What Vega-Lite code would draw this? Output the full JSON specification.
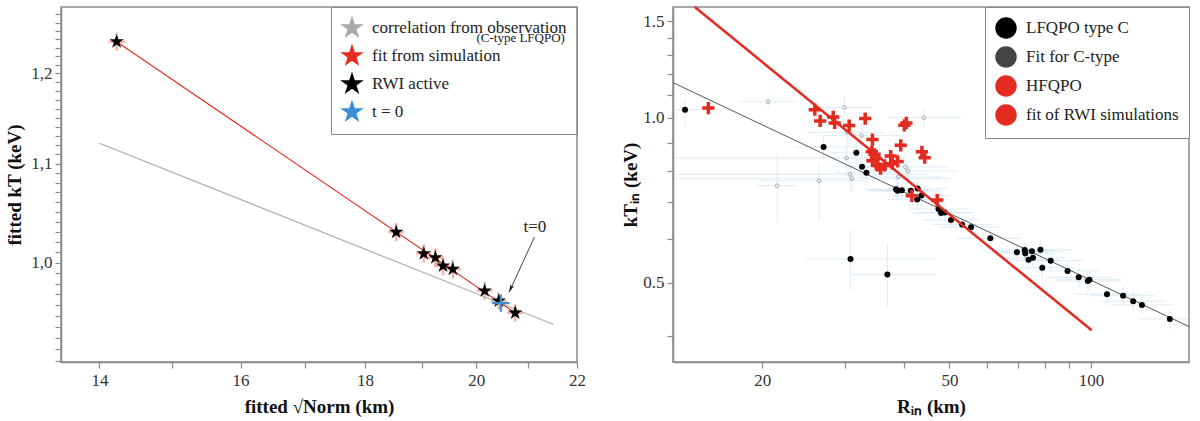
{
  "$schema": "https://vega.github.io/schema/vega-lite/v6.json",
  "padding": {"left": 5, "top": 4, "right": 5, "bottom": 0},
  "spacing": 34,
  "resolve": {"scale": {"color": "independent"}, "legend": {"color": "independent"}},
  "datasets": {
    "stars": [
      {"x": 14.23, "y": 1.237, "xlo": 14.12, "xhi": 14.34, "ylo": 1.226, "yhi": 1.248, "s": "RWI active"},
      {"x": 18.54, "y": 1.030, "xlo": 18.40, "xhi": 18.68, "ylo": 1.021, "yhi": 1.039, "s": "RWI active"},
      {"x": 19.03, "y": 1.009, "xlo": 18.89, "xhi": 19.17, "ylo": 1.000, "yhi": 1.018, "s": "RWI active"},
      {"x": 19.24, "y": 1.005, "xlo": 19.10, "xhi": 19.38, "ylo": 0.996, "yhi": 1.014, "s": "RWI active"},
      {"x": 19.38, "y": 0.997, "xlo": 19.24, "xhi": 19.52, "ylo": 0.988, "yhi": 1.006, "s": "RWI active"},
      {"x": 19.56, "y": 0.994, "xlo": 19.41, "xhi": 19.71, "ylo": 0.985, "yhi": 1.003, "s": "RWI active"},
      {"x": 20.16, "y": 0.9735, "xlo": 20.01, "xhi": 20.31, "ylo": 0.965, "yhi": 0.982, "s": "RWI active"},
      {"x": 20.43, "y": 0.964, "xlo": 20.28, "xhi": 20.58, "ylo": 0.956, "yhi": 0.972, "s": "RWI active"},
      {"x": 20.75, "y": 0.953, "xlo": 20.59, "xhi": 20.91, "ylo": 0.945, "yhi": 0.961, "s": "RWI active"}
    ],
    "t0": [{"x": 20.47, "y": 0.962, "s": "t = 0"}],
    "obsfit": [{"x": 14.0, "y": 1.122, "x2": 21.51, "y2": 0.9426}],
    "simfit": [{"x": 14.23, "y": 1.237, "x2": 20.75, "y2": 0.953}],
    "arrow": [{"x": 21.13, "y": 1.025, "x2": 20.63, "y2": 0.972}],
    "arrowhead": [{"x": 20.63, "y": 0.972}],
    "tlabel": [{"x": 21.14, "y": 1.035, "label": "t=0"}],
    "legnote": [{"x": 21.75, "y": 1.242, "label": "(C-type LFQPO)"}],
    "lf": [
      {"x": 13.69, "y": 1.034, "xlo": 12.95, "xhi": 16.2, "ylo": 0.964, "yhi": 1.075, "s": "LFQPO type C"},
      {"x": 27.0, "y": 0.884, "xlo": 23.5, "xhi": 31.0, "ylo": 0.84, "yhi": 0.93, "s": "LFQPO type C"},
      {"x": 31.7, "y": 0.863, "xlo": 27.5, "xhi": 36.5, "ylo": 0.82, "yhi": 0.91, "s": "LFQPO type C"},
      {"x": 32.6, "y": 0.813, "xlo": 28.0, "xhi": 38.0, "ylo": 0.77, "yhi": 0.86, "s": "LFQPO type C"},
      {"x": 33.3, "y": 0.793, "xlo": 28.5, "xhi": 39.0, "ylo": 0.75, "yhi": 0.84, "s": "LFQPO type C"},
      {"x": 30.8, "y": 0.552, "xlo": 24.7, "xhi": 46.7, "ylo": 0.484, "yhi": 0.625, "s": "LFQPO type C"},
      {"x": 36.9, "y": 0.517, "xlo": 31.0, "xhi": 46.7, "ylo": 0.45, "yhi": 0.59, "s": "LFQPO type C"},
      {"x": 38.5, "y": 0.740, "xlo": 33.0, "xhi": 45.0, "ylo": 0.71, "yhi": 0.77, "s": "LFQPO type C"},
      {"x": 38.8, "y": 0.735, "xlo": 33.5, "xhi": 45.0, "ylo": 0.705, "yhi": 0.765, "s": "LFQPO type C"},
      {"x": 39.6, "y": 0.737, "xlo": 34.0, "xhi": 46.0, "ylo": 0.71, "yhi": 0.765, "s": "LFQPO type C"},
      {"x": 41.4, "y": 0.735, "xlo": 36.0, "xhi": 48.0, "ylo": 0.705, "yhi": 0.765, "s": "LFQPO type C"},
      {"x": 42.8, "y": 0.742, "xlo": 37.0, "xhi": 49.5, "ylo": 0.71, "yhi": 0.775, "s": "LFQPO type C"},
      {"x": 42.7, "y": 0.7085, "xlo": 37.0, "xhi": 49.0, "ylo": 0.68, "yhi": 0.74, "s": "LFQPO type C"},
      {"x": 43.6, "y": 0.7205, "xlo": 38.0, "xhi": 50.0, "ylo": 0.69, "yhi": 0.75, "s": "LFQPO type C"},
      {"x": 47.4, "y": 0.681, "xlo": 41.0, "xhi": 55.0, "ylo": 0.655, "yhi": 0.71, "s": "LFQPO type C"},
      {"x": 48.0, "y": 0.670, "xlo": 41.5, "xhi": 55.5, "ylo": 0.645, "yhi": 0.695, "s": "LFQPO type C"},
      {"x": 48.9, "y": 0.671, "xlo": 42.5, "xhi": 56.5, "ylo": 0.645, "yhi": 0.697, "s": "LFQPO type C"},
      {"x": 50.4, "y": 0.650, "xlo": 44.0, "xhi": 58.0, "ylo": 0.625, "yhi": 0.675, "s": "LFQPO type C"},
      {"x": 53.2, "y": 0.638, "xlo": 46.0, "xhi": 61.5, "ylo": 0.615, "yhi": 0.662, "s": "LFQPO type C"},
      {"x": 55.6, "y": 0.631, "xlo": 48.0, "xhi": 64.0, "ylo": 0.607, "yhi": 0.655, "s": "LFQPO type C"},
      {"x": 61.1, "y": 0.602, "xlo": 52.0, "xhi": 71.0, "ylo": 0.578, "yhi": 0.626, "s": "LFQPO type C"},
      {"x": 69.6, "y": 0.568, "xlo": 60.0, "xhi": 81.0, "ylo": 0.545, "yhi": 0.592, "s": "LFQPO type C"},
      {"x": 72.3, "y": 0.573, "xlo": 62.0, "xhi": 84.0, "ylo": 0.55, "yhi": 0.597, "s": "LFQPO type C"},
      {"x": 72.5, "y": 0.565, "xlo": 62.0, "xhi": 84.0, "ylo": 0.542, "yhi": 0.589, "s": "LFQPO type C"},
      {"x": 73.7, "y": 0.550, "xlo": 63.0, "xhi": 86.0, "ylo": 0.528, "yhi": 0.573, "s": "LFQPO type C"},
      {"x": 74.9, "y": 0.570, "xlo": 64.0, "xhi": 87.0, "ylo": 0.547, "yhi": 0.594, "s": "LFQPO type C"},
      {"x": 75.3, "y": 0.555, "xlo": 65.0, "xhi": 88.0, "ylo": 0.533, "yhi": 0.578, "s": "LFQPO type C"},
      {"x": 78.1, "y": 0.574, "xlo": 67.0, "xhi": 91.0, "ylo": 0.55, "yhi": 0.598, "s": "LFQPO type C"},
      {"x": 78.8, "y": 0.532, "xlo": 68.0, "xhi": 92.0, "ylo": 0.51, "yhi": 0.555, "s": "LFQPO type C"},
      {"x": 82.1, "y": 0.548, "xlo": 70.0, "xhi": 96.0, "ylo": 0.526, "yhi": 0.571, "s": "LFQPO type C"},
      {"x": 89.2, "y": 0.525, "xlo": 76.0, "xhi": 104.0, "ylo": 0.503, "yhi": 0.547, "s": "LFQPO type C"},
      {"x": 94.2, "y": 0.511, "xlo": 80.0, "xhi": 110.0, "ylo": 0.49, "yhi": 0.533, "s": "LFQPO type C"},
      {"x": 98.5, "y": 0.503, "xlo": 84.0, "xhi": 115.0, "ylo": 0.482, "yhi": 0.525, "s": "LFQPO type C"},
      {"x": 99.3, "y": 0.506, "xlo": 85.0, "xhi": 116.0, "ylo": 0.485, "yhi": 0.528, "s": "LFQPO type C"},
      {"x": 108.2, "y": 0.476, "xlo": 92.0, "xhi": 127.0, "ylo": 0.456, "yhi": 0.497, "s": "LFQPO type C"},
      {"x": 117.1, "y": 0.473, "xlo": 100.0, "xhi": 137.0, "ylo": 0.453, "yhi": 0.494, "s": "LFQPO type C"},
      {"x": 123.0, "y": 0.462, "xlo": 105.0, "xhi": 144.0, "ylo": 0.442, "yhi": 0.482, "s": "LFQPO type C"},
      {"x": 128.4, "y": 0.455, "xlo": 110.0, "xhi": 150.0, "ylo": 0.436, "yhi": 0.475, "s": "LFQPO type C"},
      {"x": 147.2, "y": 0.429, "xlo": 126.0, "xhi": 161.0, "ylo": 0.41, "yhi": 0.448, "s": "LFQPO type C"},
      {"x": 20.57, "y": 1.069, "xlo": 18.0, "xhi": 23.5, "ylo": 1.04, "yhi": 1.10, "s": "other"},
      {"x": 21.5, "y": 0.751, "xlo": 19.5, "xhi": 23.7, "ylo": 0.644, "yhi": 0.861, "s": "other"},
      {"x": 26.4, "y": 0.767, "xlo": 20.0, "xhi": 33.0, "ylo": 0.65, "yhi": 0.825, "s": "other"},
      {"x": 29.9, "y": 1.044, "xlo": 26.0, "xhi": 34.0, "ylo": 1.0, "yhi": 1.09, "s": "other"},
      {"x": 30.2, "y": 0.844, "xlo": 13.0, "xhi": 40.0, "ylo": 0.80, "yhi": 0.89, "s": "other"},
      {"x": 30.7, "y": 0.788, "xlo": 13.0, "xhi": 45.0, "ylo": 0.74, "yhi": 0.84, "s": "other"},
      {"x": 31.0, "y": 0.774, "xlo": 13.0, "xhi": 50.0, "ylo": 0.73, "yhi": 0.82, "s": "other"},
      {"x": 32.5, "y": 0.927, "xlo": 27.0, "xhi": 40.0, "ylo": 0.88, "yhi": 0.98, "s": "other"},
      {"x": 30.3, "y": 0.940, "xlo": 25.0, "xhi": 36.0, "ylo": 0.90, "yhi": 0.98, "s": "other"},
      {"x": 40.3, "y": 0.813, "xlo": 33.0, "xhi": 50.0, "ylo": 0.78, "yhi": 0.85, "s": "other"},
      {"x": 40.8, "y": 0.799, "xlo": 33.0, "xhi": 52.0, "ylo": 0.765, "yhi": 0.835, "s": "other"},
      {"x": 44.1, "y": 1.0, "xlo": 37.0, "xhi": 53.0, "ylo": 0.96, "yhi": 1.04, "s": "other"},
      {"x": 38.9, "y": 0.779, "xlo": 32.0, "xhi": 48.0, "ylo": 0.745, "yhi": 0.815, "s": "other"}
    ],
    "hf": [
      {"x": 15.35, "y": 1.041, "s": "HFQPO"},
      {"x": 25.86, "y": 1.034, "s": "HFQPO"},
      {"x": 26.55, "y": 0.986, "s": "HFQPO"},
      {"x": 28.3, "y": 1.003, "s": "HFQPO"},
      {"x": 28.5, "y": 0.978, "s": "HFQPO"},
      {"x": 30.6, "y": 0.967, "s": "HFQPO"},
      {"x": 33.1, "y": 0.996, "s": "HFQPO"},
      {"x": 34.3, "y": 0.912, "s": "HFQPO"},
      {"x": 34.2, "y": 0.866, "s": "HFQPO"},
      {"x": 34.65, "y": 0.857, "s": "HFQPO"},
      {"x": 34.3, "y": 0.834, "s": "HFQPO"},
      {"x": 34.9, "y": 0.842, "s": "HFQPO"},
      {"x": 35.2, "y": 0.818, "s": "HFQPO"},
      {"x": 35.7, "y": 0.807, "s": "HFQPO"},
      {"x": 36.4, "y": 0.818, "s": "HFQPO"},
      {"x": 37.5, "y": 0.851, "s": "HFQPO"},
      {"x": 37.8, "y": 0.824, "s": "HFQPO"},
      {"x": 38.8, "y": 0.832, "s": "HFQPO"},
      {"x": 39.4, "y": 0.890, "s": "HFQPO"},
      {"x": 40.1, "y": 0.968, "s": "HFQPO"},
      {"x": 40.5, "y": 0.978, "s": "HFQPO"},
      {"x": 41.6, "y": 0.720, "s": "HFQPO"},
      {"x": 43.7, "y": 0.866, "s": "HFQPO"},
      {"x": 44.3, "y": 0.845, "s": "HFQPO"},
      {"x": 47.1, "y": 0.707, "s": "HFQPO"}
    ],
    "cfit": [{"x": 12.92, "y": 1.158, "x2": 161.7, "y2": 0.4155}],
    "rwifit": [{"x": 14.36, "y": 1.592, "x2": 100.4, "y2": 0.409}]
  },
  "hconcat": [
    {
      "width": 516,
      "height": 355,
      "layer": [
        {
          "data": {"name": "stars"},
          "mark": {"type": "rule", "color": "#f5a696", "strokeWidth": 2.5, "opacity": 0.85},
          "encoding": {
            "x": {
              "field": "xlo", "type": "quantitative",
              "scale": {"type": "log", "domain": [13.5, 22], "nice": false, "zero": false},
              "axis": {
                "title": "fitted √Norm  (km)",
                "values": [14, 15, 16, 17, 18, 19, 20, 21, 22],
                "labelExpr": "datum.value % 2 === 0 ? format(datum.value, 'd') : ''",
                "labelPadding": 4, "titlePadding": 9
              }
            },
            "x2": {"field": "xhi"},
            "y": {
              "field": "y", "type": "quantitative",
              "scale": {"type": "log", "domain": [0.909, 1.279], "nice": false, "zero": false},
              "axis": {
                "title": "fitted kT  (keV)",
                "values": [0.91, 0.92, 0.93, 0.94, 0.95, 0.96, 0.97, 0.98, 0.99, 1.0, 1.01, 1.02, 1.03, 1.04, 1.05, 1.06, 1.07, 1.08, 1.09, 1.1, 1.11, 1.12, 1.13, 1.14, 1.15, 1.16, 1.17, 1.18, 1.19, 1.2, 1.21, 1.22, 1.23, 1.24, 1.25, 1.26, 1.27],
                "labelExpr": "abs(datum.value * 10 - round(datum.value * 10)) < 0.001 ? replace(format(datum.value, '.1f'), '.', ',') : ''",
                "titlePadding": 6
              }
            }
          }
        },
        {
          "data": {"name": "stars"},
          "mark": {"type": "rule", "color": "#f5a696", "strokeWidth": 2.5, "opacity": 0.85},
          "encoding": {
            "x": {"field": "x", "type": "quantitative"},
            "y": {"field": "ylo", "type": "quantitative"},
            "y2": {"field": "yhi"}
          }
        },
        {
          "data": {"name": "obsfit"},
          "mark": {"type": "rule", "color": "#a8a8a8", "strokeWidth": 1.1},
          "encoding": {
            "x": {"field": "x", "type": "quantitative"},
            "y": {"field": "y", "type": "quantitative"},
            "x2": {"field": "x2"},
            "y2": {"field": "y2"}
          }
        },
        {
          "data": {"name": "simfit"},
          "mark": {"type": "rule", "color": "#e42b20", "strokeWidth": 1.1},
          "encoding": {
            "x": {"field": "x", "type": "quantitative"},
            "y": {"field": "y", "type": "quantitative"},
            "x2": {"field": "x2"},
            "y2": {"field": "y2"}
          }
        },
        {
          "data": {"name": "stars"},
          "mark": {"type": "point", "shape": "M0,-1L0.225,-0.309L0.951,-0.309L0.363,0.118L0.588,0.809L0,0.382L-0.588,0.809L-0.363,0.118L-0.951,-0.309L-0.225,-0.309Z", "filled": true, "size": 230, "opacity": 1},
          "encoding": {
            "x": {"field": "x", "type": "quantitative"},
            "y": {"field": "y", "type": "quantitative"},
            "color": {
              "field": "s", "type": "nominal",
              "scale": {
                "domain": ["correlation from observation", "fit from simulation", "RWI active", "t = 0"],
                "range": ["#a8a8a8", "#e42b20", "#000000", "#3b8fd4"]
              },
              "legend": {
                "title": null, "orient": "top-right", "offset": 0, "padding": 10,
                "strokeColor": "#888888",
                "symbolSize": 400, "labelOffset": 9, "rowPadding": 3,
                "encode": {
                  "symbols": {
                    "shape": {"signal": "datum.value === 'RWI active' ? 'M0,-1L0.225,-0.309L0.951,-0.309L0.363,0.118L0.588,0.809L0,0.382L-0.588,0.809L-0.363,0.118L-0.951,-0.309L-0.225,-0.309Z' : datum.value === 't = 0' ? 'M-1,0L1,0M0,-1L0,1' : 'stroke'"},
                    "size": {"signal": "datum.value === 'RWI active' ? 230 : datum.value === 't = 0' ? 300 : 700"},
                    "fill": {"signal": "datum.value === 'RWI active' ? 'black' : 'transparent'"},
                    "stroke": {"signal": "datum.value === 'correlation from observation' ? '#a8a8a8' : datum.value === 'fit from simulation' ? '#e42b20' : datum.value === 'RWI active' ? 'black' : '#3b8fd4'"},
                    "strokeWidth": {"signal": "datum.value === 't = 0' ? 2.2 : datum.value === 'RWI active' ? 0.5 : 1.2"}
                  }
                }
              }
            }
          }
        },
        {
          "data": {"name": "t0"},
          "mark": {"type": "point", "shape": "M-1,0L1,0M0,-1L0,1", "filled": false, "size": 300, "strokeWidth": 2.2, "opacity": 1},
          "encoding": {
            "x": {"field": "x", "type": "quantitative"},
            "y": {"field": "y", "type": "quantitative"},
            "color": {"field": "s", "type": "nominal"}
          }
        },
        {
          "data": {"name": "arrow"},
          "mark": {"type": "rule", "color": "#111111", "strokeWidth": 0.8},
          "encoding": {
            "x": {"field": "x", "type": "quantitative"},
            "y": {"field": "y", "type": "quantitative"},
            "x2": {"field": "x2"},
            "y2": {"field": "y2"}
          }
        },
        {
          "data": {"name": "arrowhead"},
          "mark": {"type": "point", "shape": "M0,0L-0.5,-2L0,-1.5L0.5,-2Z", "filled": true, "size": 64, "angle": 24, "color": "#111111", "opacity": 1},
          "encoding": {
            "x": {"field": "x", "type": "quantitative"},
            "y": {"field": "y", "type": "quantitative"}
          }
        },
        {
          "data": {"name": "tlabel"},
          "mark": {"type": "text", "font": "Liberation Serif", "fontSize": 17, "baseline": "middle", "color": "#222222"},
          "encoding": {
            "x": {"field": "x", "type": "quantitative"},
            "y": {"field": "y", "type": "quantitative"},
            "text": {"field": "label"}
          }
        },
        {
          "data": {"name": "legnote"},
          "mark": {"type": "text", "font": "Liberation Serif", "fontSize": 13, "align": "right", "baseline": "middle", "color": "#222222"},
          "encoding": {
            "x": {"field": "x", "type": "quantitative"},
            "y": {"field": "y", "type": "quantitative"},
            "text": {"field": "label"}
          }
        }
      ]
    },
    {
      "width": 516,
      "height": 355,
      "layer": [
        {
          "data": {"name": "lf"},
          "mark": {"type": "rule", "color": "#c6e1f1", "strokeWidth": 1, "opacity": 0.6},
          "encoding": {
            "x": {
              "field": "xlo", "type": "quantitative",
              "scale": {"type": "log", "domain": [12.91, 161.7], "nice": false, "zero": false},
              "axis": {
                "title": "Rᵢₙ  (km)",
                "values": [20, 30, 40, 50, 60, 70, 80, 90, 100],
                "labelExpr": "datum.value === 20 || datum.value === 50 || datum.value === 100 ? format(datum.value, 'd') : ''",
                "labelPadding": 4, "titlePadding": 9
              }
            },
            "x2": {"field": "xhi"},
            "y": {
              "field": "y", "type": "quantitative",
              "scale": {"type": "log", "domain": [0.358, 1.592], "nice": false, "zero": false},
              "axis": {
                "title": "kTᵢₙ  (keV)",
                "values": [0.4, 0.5, 0.6, 0.7, 0.8, 0.9, 1.0, 1.1, 1.2, 1.3, 1.4, 1.5],
                "labelExpr": "abs(datum.value * 2 - round(datum.value * 2)) < 0.001 ? format(datum.value, '.1f') : ''",
                "titlePadding": 2
              }
            }
          }
        },
        {
          "data": {"name": "lf"},
          "mark": {"type": "rule", "color": "#c6e1f1", "strokeWidth": 1, "opacity": 0.6},
          "encoding": {
            "x": {"field": "x", "type": "quantitative"},
            "y": {"field": "ylo", "type": "quantitative"},
            "y2": {"field": "yhi"}
          }
        },
        {
          "data": {"name": "lf"},
          "transform": [{"filter": "datum.s === 'other'"}],
          "mark": {"type": "point", "shape": "circle", "filled": false, "size": 14, "strokeWidth": 0.8, "color": "#9a9a9a", "opacity": 1},
          "encoding": {
            "x": {"field": "x", "type": "quantitative"},
            "y": {"field": "y", "type": "quantitative"}
          }
        },
        {
          "data": {"name": "cfit"},
          "mark": {"type": "rule", "color": "#444444", "strokeWidth": 0.9},
          "encoding": {
            "x": {"field": "x", "type": "quantitative"},
            "y": {"field": "y", "type": "quantitative"},
            "x2": {"field": "x2"},
            "y2": {"field": "y2"}
          }
        },
        {
          "data": {"name": "lf"},
          "transform": [{"filter": "datum.s === 'LFQPO type C'"}],
          "mark": {"type": "point", "shape": "circle", "filled": true, "size": 36, "opacity": 1},
          "encoding": {
            "x": {"field": "x", "type": "quantitative"},
            "y": {"field": "y", "type": "quantitative"},
            "color": {
              "field": "s", "type": "nominal",
              "scale": {
                "domain": ["LFQPO type C", "Fit for C-type", "HFQPO", "fit of RWI simulations"],
                "range": ["#000000", "#444444", "#e42b20", "#e42b20"]
              },
              "legend": {
                "title": null, "orient": "top-right", "offset": 0, "padding": 10,
                "strokeColor": "#888888", "fillColor": "white",
                "symbolSize": 400, "labelOffset": 9, "rowPadding": 3,
                "encode": {
                  "symbols": {
                    "shape": {"signal": "datum.value === 'LFQPO type C' ? 'circle' : datum.value === 'HFQPO' ? 'M-1,0L1,0M0,-1L0,1' : 'stroke'"},
                    "size": {"signal": "datum.value === 'LFQPO type C' ? 36 : datum.value === 'HFQPO' ? 150 : 700"},
                    "fill": {"signal": "datum.value === 'LFQPO type C' ? 'black' : 'transparent'"},
                    "stroke": {"signal": "datum.value === 'LFQPO type C' ? 'black' : datum.value === 'Fit for C-type' ? '#444444' : '#e42b20'"},
                    "strokeWidth": {"signal": "datum.value === 'LFQPO type C' ? 0 : datum.value === 'Fit for C-type' ? 1 : datum.value === 'HFQPO' ? 3.5 : 2.5"}
                  }
                }
              }
            }
          }
        },
        {
          "data": {"name": "rwifit"},
          "mark": {"type": "rule", "color": "#e42b20", "strokeWidth": 2.5},
          "encoding": {
            "x": {"field": "x", "type": "quantitative"},
            "y": {"field": "y", "type": "quantitative"},
            "x2": {"field": "x2"},
            "y2": {"field": "y2"}
          }
        },
        {
          "data": {"name": "hf"},
          "mark": {"type": "point", "shape": "M-1,0L1,0M0,-1L0,1", "filled": false, "size": 150, "strokeWidth": 3.5, "opacity": 1},
          "encoding": {
            "x": {"field": "x", "type": "quantitative"},
            "y": {"field": "y", "type": "quantitative"},
            "color": {"field": "s", "type": "nominal"}
          }
        }
      ]
    }
  ],
  "config": {
    "font": "Liberation Serif",
    "view": {"stroke": "#8a8a8a", "strokeWidth": 1.5},
    "axis": {
      "labelFont": "Liberation Serif", "labelFontSize": 17, "labelColor": "#333333",
      "titleFont": "Liberation Serif", "titleFontSize": 19, "titleFontWeight": "bold", "titleColor": "#111111",
      "domainColor": "#8a8a8a", "domainWidth": 1.5, "tickColor": "#8a8a8a", "tickWidth": 1.2, "tickSize": 6,
      "grid": false, "labelOverlap": false, "labelFlush": false, "labelPadding": 3
    },
    "legend": {"labelFont": "Liberation Serif", "labelFontSize": 17, "labelColor": "#222222", "labelLimit": 400}
  }
}
